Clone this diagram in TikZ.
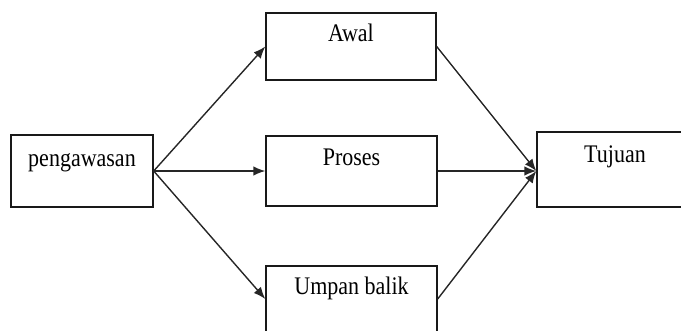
\documentclass[tikz,border=0pt]{standalone}
\usepackage{fontspec}
\setmainfont{Liberation Serif}
\usetikzlibrary{arrows.meta}
\tikzset{
  box/.style={draw=black!90, line width=1.4pt, inner sep=0pt, fill=white},
  lbl/.style={inner sep=0pt, anchor=base, font=\fontsize{22}{26}\selectfont},
  conn/.style={draw=black!85, line width=1.4pt, -{Latex[length=12pt,width=9.5pt]}}
}
\newcommand{\tall}[1]{\scalebox{1}[1.15]{#1}}
\begin{document}
\begin{tikzpicture}[x=1pt, y=-1pt]
  \useasboundingbox (0,0) rectangle (681,330);
  \clip (0,0) rectangle (681,330);
  % boxes
  \node[box, minimum width=142pt, minimum height=72pt] (peng) at (82,171) {};
  \node[box, minimum width=170pt, minimum height=67pt] (awal) at (351,46.5) {};
  \node[box, minimum width=171pt, minimum height=70pt] (proses) at (351.5,171) {};
  \node[box, minimum width=171pt, minimum height=66pt] (umpan) at (351.5,299) {};
  \node[box, minimum width=153pt, minimum height=75pt] (tujuan) at (613.5,169.5) {};
  % labels
  \node[lbl] (tpeng) at ([yshift=-32pt]peng.north) {\tall{pengawasan}};
  \node[lbl] (tawal) at ([yshift=-29pt]awal.north) {\tall{Awal}};
  \node[lbl] (tproses) at ([yshift=-30pt]proses.north) {\tall{Proses}};
  \node[lbl] (tumpan) at ([yshift=-29pt]umpan.north) {\tall{Umpan balik}};
  \node[lbl] (ttujuan) at ([xshift=1.5pt,yshift=-31pt]tujuan.north) {\tall{Tujuan}};
  % connectors
  \coordinate (goal) at ([yshift=-1.5pt]tujuan.west);
  \draw[conn] (peng.east) -- (awal.west);
  \draw[conn] (peng.east) -- (proses.west);
  \draw[conn] (peng.east) -- (umpan.west);
  \draw[conn] (awal.east) -- (goal);
  \draw[conn] (proses.east) -- (goal);
  \draw[conn] (umpan.east) -- (goal);
\end{tikzpicture}
\end{document}
